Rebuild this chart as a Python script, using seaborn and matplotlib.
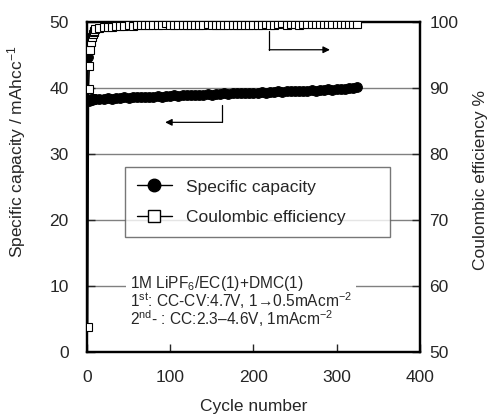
import matplotlib
matplotlib.use("Agg")
import matplotlib.pyplot as plt
import seaborn as sns
import pandas as pd
from matplotlib.lines import Line2D

# ---- data ----
cycles = [1, 2, 3, 4, 5, 6, 7, 8, 9, 10,
          15, 20, 25, 30, 35, 40, 45, 50, 55, 60, 65, 70, 75, 80, 85, 90, 95, 100,
          105, 110, 115, 120, 125, 130, 135, 140, 145, 150, 155, 160, 165, 170, 175, 180, 185, 190, 195, 200,
          205, 210, 215, 220, 225, 230, 235, 240, 245, 250, 255, 260, 265, 270, 275, 280, 285, 290, 295, 300,
          305, 310, 315, 320, 325]
capacity = [44.7, 38.2, 38.1, 38.2, 38.3, 38.2, 38.3, 38.3, 38.4, 38.3,
            38.4, 38.4, 38.5, 38.4, 38.5, 38.5, 38.6, 38.5, 38.6, 38.6, 38.7, 38.6, 38.7, 38.7, 38.8, 38.7, 38.8, 38.8,
            38.9, 38.8, 38.9, 38.9, 39.0, 38.9, 39.0, 39.0, 39.1, 39.0, 39.1, 39.1, 39.2, 39.1, 39.2, 39.2, 39.3, 39.2, 39.3, 39.3,
            39.3, 39.4, 39.3, 39.4, 39.4, 39.5, 39.4, 39.5, 39.5, 39.6, 39.5, 39.6, 39.6, 39.7, 39.6, 39.7, 39.7, 39.8, 39.7, 39.8,
            39.8, 39.9, 40.0, 40.0, 40.1]
efficiency = [53.8, 89.9, 93.3, 95.8, 97.0, 97.8, 98.2, 98.5, 98.7, 98.9,
              99.1, 99.2, 99.3, 99.3, 99.4, 99.4, 99.4, 99.5, 99.4, 99.5, 99.5, 99.5, 99.5, 99.5, 99.6, 99.5, 99.8, 99.6,
              99.6, 99.6, 99.5, 99.6, 99.6, 99.6, 99.6, 99.6, 99.7, 99.6, 99.6, 99.6, 99.6, 99.6, 99.6, 99.6, 99.6, 99.6, 99.6, 99.6,
              99.6, 99.6, 99.7, 99.6, 99.6, 99.7, 99.8, 99.6, 99.7, 99.7, 99.6, 99.7, 99.7, 99.7, 99.7, 99.7, 99.7, 99.7, 99.7, 99.7,
              99.7, 99.7, 99.7, 99.7, 99.7]
left_ticks = [0, 10, 20, 30, 40, 50]
right_ticks = [50, 60, 70, 80, 90, 100]
x_ticks = [0, 100, 200, 300, 400]

df = pd.DataFrame({"cycle": cycles, "capacity": capacity, "efficiency": efficiency})

sns.set_style("ticks")
plt.rcParams["font.family"] = ["Liberation Sans", "DejaVu Sans"]
plt.rcParams["mathtext.fontset"] = "custom"
plt.rcParams["mathtext.rm"] = "Liberation Sans"
plt.rcParams["mathtext.it"] = "Liberation Sans"

fig = plt.figure(figsize=(4.91, 4.16), dpi=100)
ax = fig.add_axes([0.177, 0.154, 0.678, 0.793])
ax2 = ax.twinx()

FS = 12.5

# grid lines (left axis)
for yv in [10, 20, 30, 40]:
    ax.axhline(yv, color="#808080", lw=1.0, zorder=0)

sns.lineplot(data=df, x="cycle", y="capacity", ax=ax, color="black", lw=1.0,
             marker="o", markersize=7, markerfacecolor="black", markeredgecolor="black",
             zorder=3, legend=False)
sns.lineplot(data=df, x="cycle", y="efficiency", ax=ax2, color="black", lw=1.0,
             marker="s", markersize=6, markerfacecolor="white", markeredgecolor="black",
             markeredgewidth=0.8, zorder=3, legend=False)

ax.set_xlim(0, 400)
ax.set_ylim(0, 50)
ax2.set_ylim(50, 100)
ax.set_xticks(x_ticks)
ax.set_yticks(left_ticks)
ax2.set_yticks(right_ticks)

ax.set_xlabel("Cycle number", fontsize=FS, labelpad=10)
ax.set_ylabel(r"Specific capacity / mAhcc$^{-1}$", fontsize=FS)
ax2.set_ylabel("Coulombic efficiency %", fontsize=FS)
ax.yaxis.set_label_coords(-0.178, 0.606)
ax2.yaxis.set_label_coords(1.160, 0.52)

for a in (ax, ax2):
    a.tick_params(direction="in", length=6, width=1, labelsize=FS)
    for s in a.spines.values():
        s.set_linewidth(1.6)
        s.set_color("black")
ax.tick_params(axis="y", pad=13)
ax.tick_params(axis="x", pad=13)
ax2.tick_params(axis="y", pad=7)

# arrows
ax.annotate("", xy=(94, 34.8), xytext=(162, 34.8),
            arrowprops=dict(arrowstyle="-|>", color="black", lw=0.9, mutation_scale=10,
                            shrinkA=0, shrinkB=0), zorder=2)
ax.plot([162, 162], [37.4, 34.8], color="black", lw=0.9, zorder=2)
ax.annotate("", xy=(292, 45.8), xytext=(219, 45.8),
            arrowprops=dict(arrowstyle="-|>", color="black", lw=0.9, mutation_scale=10,
                            shrinkA=0, shrinkB=0), zorder=2)
ax.plot([219, 219], [48.6, 45.8], color="black", lw=0.9, zorder=2)

# legend
handles = [Line2D([], [], color="black", lw=1.0, marker="o", markersize=9,
                  markerfacecolor="black", markeredgecolor="black"),
           Line2D([], [], color="black", lw=1.0, marker="s", markersize=9,
                  markerfacecolor="white", markeredgecolor="black")]
leg = ax2.legend(handles, ["Specific capacity", "Coulombic efficiency"],
                 loc="upper left", bbox_to_anchor=(0.114, 0.56, 0.796, 0.0),
                 mode="expand", fontsize=FS, frameon=True, fancybox=False,
                 borderpad=0.7, labelspacing=0.9, handlelength=2.0, handletextpad=0.8,
                 borderaxespad=0)
leg.get_frame().set_edgecolor("#555555")
leg.get_frame().set_linewidth(1.0)
leg.set_zorder(5)

ax2.text(0.13, 0.152,
         "1M LiPF$_6$/EC(1)+DMC(1)\n"
         "1$^{\\mathrm{st}}$: CC-CV:4.7V, 1\u21920.5mAcm$^{-2}$\n"
         "2$^{\\mathrm{nd}}$- : CC:2.3\u20134.6V, 1mAcm$^{-2}$",
         transform=ax2.transAxes, fontsize=11.2, ha="left", va="center",
         linespacing=0.85, zorder=5,
         bbox=dict(facecolor="white", edgecolor="none", pad=3))

fig.savefig("out.png", dpi=100)
